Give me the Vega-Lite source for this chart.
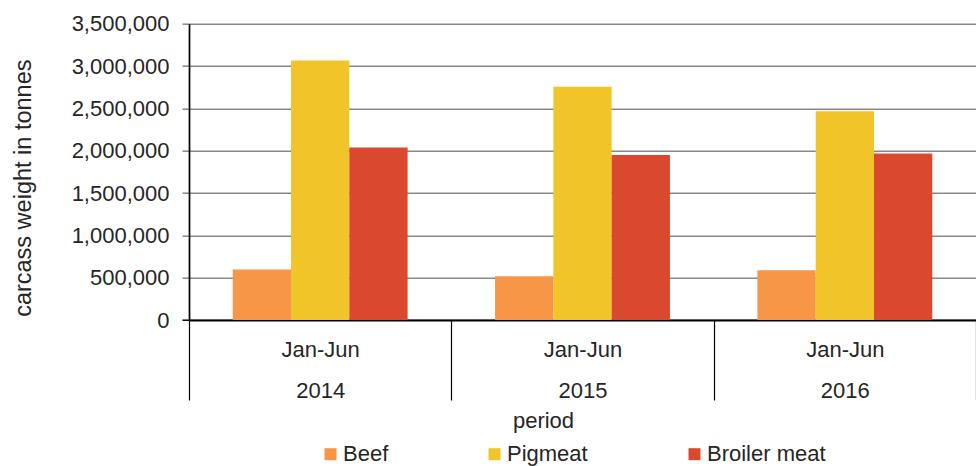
{
  "$schema": "https://vega.github.io/schema/vega-lite/v6.json",
  "autosize": {"type": "none"},
  "width": 787,
  "height": 296.3,
  "padding": {"left": 189, "top": 23.7, "right": 0, "bottom": 146},
  "background": "white",
  "config": {
    "font": "Liberation Sans",
    "view": {"stroke": null}
  },
  "data": {
    "values": [
      {"period": "2014", "meat": "Beef", "tonnes": 598000},
      {"period": "2014", "meat": "Pigmeat", "tonnes": 3066000},
      {"period": "2014", "meat": "Broiler meat", "tonnes": 2039000},
      {"period": "2015", "meat": "Beef", "tonnes": 516000},
      {"period": "2015", "meat": "Pigmeat", "tonnes": 2754000},
      {"period": "2015", "meat": "Broiler meat", "tonnes": 1948000},
      {"period": "2016", "meat": "Beef", "tonnes": 587000},
      {"period": "2016", "meat": "Pigmeat", "tonnes": 2467000},
      {"period": "2016", "meat": "Broiler meat", "tonnes": 1968000}
    ]
  },
  "mark": {"type": "bar"},
  "encoding": {
    "x": {
      "field": "period",
      "type": "nominal",
      "scale": {"paddingInner": 0, "paddingOuter": 0},
      "axis": {
        "title": "period",
        "titleFont": "Liberation Sans",
        "titleFontSize": 22,
        "titleFontWeight": "normal",
        "titleColor": "#262626",
        "titleX": 354,
        "titleY": 107,
        "titleAlign": "center",
        "titleBaseline": "alphabetic",
        "labelAngle": 0,
        "labelExpr": "datum.label ? ['Jan-Jun', datum.label] : ''",
        "labelLineHeight": 41,
        "labelFontSize": 22,
        "labelColor": "#262626",
        "labelPadding": -60.4,
        "tickBand": "extent",
        "tickSize": 80,
        "tickColor": "#000000",
        "tickWidth": 1.2,
        "domainColor": "#000000",
        "domainWidth": 2,
        "grid": false
      }
    },
    "xOffset": {
      "field": "meat",
      "type": "nominal",
      "sort": ["Beef", "Pigmeat", "Broiler meat"],
      "scale": {"paddingInner": 0, "paddingOuter": 0.75}
    },
    "y": {
      "field": "tonnes",
      "type": "quantitative",
      "scale": {"domain": [0, 3500000], "nice": false},
      "axis": {
        "title": "carcass weight in tonnes",
        "titleFont": "Liberation Sans",
        "titleFontSize": 23.5,
        "titleFontWeight": "normal",
        "titleColor": "#262626",
        "titleAngle": -90,
        "titleX": -159,
        "titleY": 164,
        "titleAlign": "center",
        "titleBaseline": "alphabetic",
        "values": [0, 500000, 1000000, 1500000, 2000000, 2500000, 3000000, 3500000],
        "format": ",d",
        "labelFontSize": 22,
        "labelColor": "#262626",
        "labelPadding": 13,
        "tickSize": 7,
        "tickColor": {"condition": {"test": "datum.value === 0", "value": "#000000"}, "value": "#888888"},
        "tickWidth": 1.5,
        "domainColor": "#000000",
        "domainWidth": 1.7,
        "grid": true,
        "gridColor": "#888888",
        "gridWidth": 1.5
      }
    },
    "color": {
      "field": "meat",
      "type": "nominal",
      "sort": ["Beef", "Pigmeat", "Broiler meat"],
      "scale": {"domain": ["Beef", "Pigmeat", "Broiler meat"], "range": ["#F79646", "#F1C42A", "#D9482F"]},
      "legend": {
        "title": null,
        "orient": "none",
        "direction": "horizontal",
        "legendX": 130.5,
        "legendY": 419.5,
        "padding": 0,
        "symbolType": "square",
        "symbolSize": 144,
        "symbolStrokeWidth": 0,
        "labelFontSize": 22,
        "labelColor": "#262626",
        "labelOffset": 1.5,
        "columnPadding": 95
      }
    }
  }
}
